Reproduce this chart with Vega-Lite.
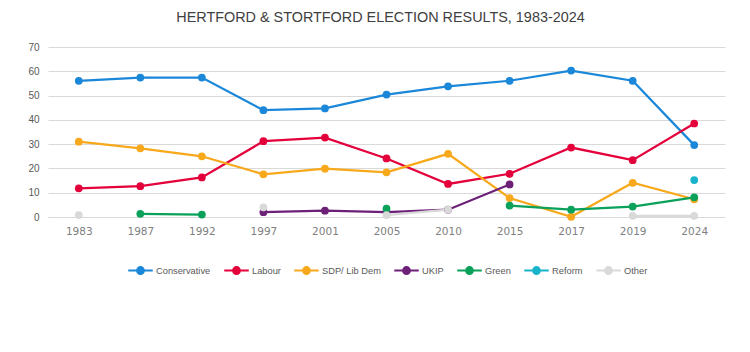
{
  "$schema": "https://vega.github.io/schema/vega-lite/v6.json",
  "width": 677,
  "height": 170,
  "autosize": {"type": "none"},
  "padding": {"left": 48, "top": 47, "right": 25, "bottom": 135},
  "background": "white",
  "title": {
    "text": "HERTFORD & STORTFORD ELECTION RESULTS, 1983-2024",
    "font": "Liberation Sans",
    "fontSize": 14.4,
    "fontWeight": "normal",
    "color": "#404040",
    "anchor": "middle",
    "offset": 17,
    "dx": -6
  },
  "config": {
    "view": {"stroke": null},
    "font": "Liberation Sans"
  },
  "data": {
    "values": [
      {"year": "1983", "party": "Conservative", "pct": 56.1},
      {"year": "1987", "party": "Conservative", "pct": 57.4},
      {"year": "1992", "party": "Conservative", "pct": 57.4},
      {"year": "1997", "party": "Conservative", "pct": 44.0},
      {"year": "2001", "party": "Conservative", "pct": 44.7},
      {"year": "2005", "party": "Conservative", "pct": 50.4},
      {"year": "2010", "party": "Conservative", "pct": 53.8},
      {"year": "2015", "party": "Conservative", "pct": 56.1},
      {"year": "2017", "party": "Conservative", "pct": 60.3},
      {"year": "2019", "party": "Conservative", "pct": 56.1},
      {"year": "2024", "party": "Conservative", "pct": 29.6},
      {"year": "1983", "party": "Labour", "pct": 11.8},
      {"year": "1987", "party": "Labour", "pct": 12.7},
      {"year": "1992", "party": "Labour", "pct": 16.3},
      {"year": "1997", "party": "Labour", "pct": 31.2},
      {"year": "2001", "party": "Labour", "pct": 32.7},
      {"year": "2005", "party": "Labour", "pct": 24.1},
      {"year": "2010", "party": "Labour", "pct": 13.6},
      {"year": "2015", "party": "Labour", "pct": 17.8},
      {"year": "2017", "party": "Labour", "pct": 28.6},
      {"year": "2019", "party": "Labour", "pct": 23.4},
      {"year": "2024", "party": "Labour", "pct": 38.5},
      {"year": "1983", "party": "SDP/ Lib Dem", "pct": 31.0},
      {"year": "1987", "party": "SDP/ Lib Dem", "pct": 28.3},
      {"year": "1992", "party": "SDP/ Lib Dem", "pct": 25.0},
      {"year": "1997", "party": "SDP/ Lib Dem", "pct": 17.6},
      {"year": "2001", "party": "SDP/ Lib Dem", "pct": 19.9},
      {"year": "2005", "party": "SDP/ Lib Dem", "pct": 18.4},
      {"year": "2010", "party": "SDP/ Lib Dem", "pct": 26.0},
      {"year": "2015", "party": "SDP/ Lib Dem", "pct": 7.8},
      {"year": "2017", "party": "SDP/ Lib Dem", "pct": 0.1},
      {"year": "2019", "party": "SDP/ Lib Dem", "pct": 14.1},
      {"year": "2024", "party": "SDP/ Lib Dem", "pct": 7.3},
      {"year": "1997", "party": "UKIP", "pct": 2.0},
      {"year": "2001", "party": "UKIP", "pct": 2.6},
      {"year": "2005", "party": "UKIP", "pct": 2.0},
      {"year": "2010", "party": "UKIP", "pct": 3.0},
      {"year": "2015", "party": "UKIP", "pct": 13.4},
      {"year": "1987", "party": "Green", "pct": 1.3},
      {"year": "1992", "party": "Green", "pct": 1.0},
      {"year": "1997", "party": "Green", "pct": null},
      {"year": "2005", "party": "Green", "pct": 3.4},
      {"year": "2010", "party": "Green", "pct": null},
      {"year": "2015", "party": "Green", "pct": 4.7},
      {"year": "2017", "party": "Green", "pct": 3.0},
      {"year": "2019", "party": "Green", "pct": 4.3},
      {"year": "2024", "party": "Green", "pct": 8.1},
      {"year": "2024", "party": "Reform", "pct": 15.2},
      {"year": "1983", "party": "Other", "pct": 0.8},
      {"year": "1987", "party": "Other", "pct": null},
      {"year": "1997", "party": "Other", "pct": 4.0},
      {"year": "2001", "party": "Other", "pct": null},
      {"year": "2005", "party": "Other", "pct": 0.8},
      {"year": "2010", "party": "Other", "pct": 3.0},
      {"year": "2015", "party": "Other", "pct": null},
      {"year": "2019", "party": "Other", "pct": 0.5},
      {"year": "2024", "party": "Other", "pct": 0.5}
    ]
  },
  "encoding": {
    "x": {
      "field": "year",
      "type": "ordinal",
      "sort": ["1983", "1987", "1992", "1997", "2001", "2005", "2010", "2015", "2017", "2019", "2024"],
      "scale": {"type": "point", "padding": 0.5},
      "axis": {
        "title": null,
        "labelAngle": 0,
        "ticks": false,
        "domain": true,
        "domainColor": "#d9d9d9",
        "labelPadding": 9,
        "labelColor": "#808080",
        "labelFontSize": 10.5,
        "labelFont": "DejaVu Sans"
      }
    },
    "y": {
      "field": "pct",
      "type": "quantitative",
      "scale": {"domain": [0, 70], "nice": false},
      "axis": {
        "title": null,
        "values": [0, 10, 20, 30, 40, 50, 60, 70],
        "domain": false,
        "ticks": false,
        "gridColor": "#d9d9d9",
        "labelPadding": 9,
        "labelColor": "#595959",
        "labelFontSize": 10
      }
    },
    "color": {
      "field": "party",
      "type": "nominal",
      "scale": {
        "domain": ["Conservative", "Labour", "SDP/ Lib Dem", "UKIP", "Green", "Reform", "Other"],
        "range": ["#1a87d8", "#e4003b", "#f7a81b", "#6d2077", "#0aa15a", "#19b4cc", "#d9d9d9"]
      },
      "legend": {
        "title": null,
        "orient": "none",
        "legendX": 79,
        "legendY": 210,
        "direction": "horizontal",
        "symbolType": "M-1,0L1,0M0.28,0A0.28,0.28,0,1,1,-0.28,0A0.28,0.28,0,1,1,0.28,0Z",
        "symbolSize": 600,
        "symbolStrokeWidth": 2,
        "labelFontSize": 9.3,
        "labelColor": "#595959",
        "labelOffset": 2,
        "columnPadding": 9,
        "encode": {
          "symbols": {
            "update": {
              "fill": {"scale": "color", "field": "value"},
              "stroke": {"scale": "color", "field": "value"},
              "opacity": {"value": 1}
            }
          }
        }
      }
    }
  },
  "layer": [
    {
      "mark": {"type": "line", "strokeWidth": 2.25, "invalid": "break-paths-show-domains"}
    },
    {
      "transform": [{"filter": "isValid(datum.pct)"}],
      "mark": {"type": "circle", "size": 60, "opacity": 1}
    }
  ]
}
